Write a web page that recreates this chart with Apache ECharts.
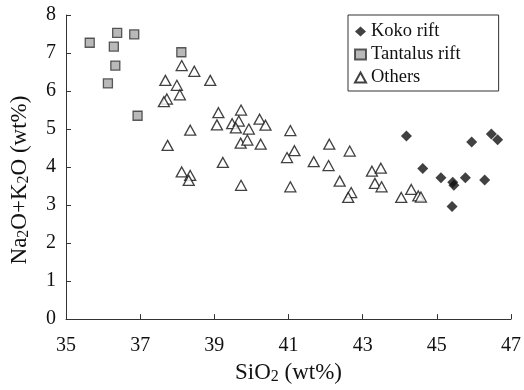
<!DOCTYPE html>
<html lang="en">
<head>
    <meta charset="UTF-8">
    <title>SiO2 vs Na2O+K2O</title>
    <script src="https://cdn.jsdelivr.net/npm/echarts@6/dist/echarts.min.js"></script>
    <style>
        html, body, #chart {
            width: 524px;
            height: 390px;
            padding: 0;
            margin: 0;
            background: #fff;
        }
    </style>
</head>
<body>
<div id="chart"></div>
<script>
    // [SiO2, Na2O+K2O]
    var kokoRift = [
        [44.18, 4.82], [45.94, 4.66], [46.47, 4.87], [46.64, 4.72],
        [44.62, 3.96], [45.11, 3.72], [45.43, 3.60], [45.46, 3.52],
        [45.77, 3.72], [46.29, 3.66], [45.41, 2.96]
    ];
    var tantalusRift = [
        [35.64, 7.27], [36.38, 7.53], [36.84, 7.49], [36.29, 7.17],
        [38.11, 7.02], [36.33, 6.67], [36.13, 6.20], [36.93, 5.35]
    ];
    var others = [
        [38.12, 6.67], [38.46, 6.52], [38.89, 6.28], [37.68, 6.28], [37.99, 6.15],
        [38.07, 5.90], [37.72, 5.79], [37.64, 5.72], [39.11, 5.43], [39.72, 5.50],
        [40.22, 5.26], [40.38, 5.10], [39.07, 5.11], [39.48, 5.14], [39.66, 5.21],
        [39.58, 5.03], [39.93, 5.00], [38.35, 4.97], [41.05, 4.96], [39.71, 4.63],
        [39.89, 4.71], [40.25, 4.60], [37.74, 4.57], [42.10, 4.60], [42.65, 4.42],
        [41.16, 4.43], [40.96, 4.25], [39.23, 4.12], [41.68, 4.14], [42.08, 4.04],
        [38.12, 3.87], [38.35, 3.78], [38.31, 3.65], [42.38, 3.63], [42.69, 3.33],
        [42.61, 3.20], [39.72, 3.52], [41.05, 3.48], [43.25, 3.89], [43.49, 3.97],
        [43.33, 3.57], [43.51, 3.48], [44.04, 3.20], [44.31, 3.41], [44.50, 3.24],
        [44.57, 3.21]
    ];

    var font = "Liberation Serif";
    var subStyle = {fontFamily: font, fontSize: 16, color: "#111", padding: [9, 0, 0, 0]};
    var chart = echarts.init(document.getElementById("chart"));

    chart.setOption({
        animation: false,
        grid: {
            left: 63,
            right: 10,
            top: 15,
            bottom: 68
        },
        legend: {
            orient: "vertical",
            left: 348,
            top: 15,
            padding: [7, 38, 4, 6],
            itemGap: 4,
            itemWidth: 11,
            itemHeight: 10,
            borderColor: "#333",
            borderWidth: 1,
            borderRadius: 0,
            textStyle: {
                fontFamily: font,
                fontSize: 18.5,
                lineHeight: 19,
                color: "#111"
            },
            data: ["Koko rift", "Tantalus rift", "Others"]
        },
        xAxis: {
            type: "value",
            min: 35,
            max: 47,
            interval: 2,
            name: "SiO{s|2} (wt%)",
            nameLocation: "middle",
            nameGap: 39,
            nameTextStyle: {
                fontFamily: font,
                fontSize: 23,
                color: "#111",
                rich: {s: subStyle}
            },
            axisLine: {lineStyle: {color: "#333", width: 1}},
            axisTick: {inside: true, length: 5, lineStyle: {color: "#333"}},
            axisLabel: {
                fontFamily: font,
                fontSize: 20,
                color: "#111",
                margin: 17
            },
            splitLine: {show: false}
        },
        yAxis: {
            type: "value",
            min: 0,
            max: 8,
            interval: 1,
            name: "Na{s|2}O+K{s|2}O (wt%)",
            nameLocation: "middle",
            nameGap: 34,
            nameTextStyle: {
                fontFamily: font,
                fontSize: 23,
                color: "#111",
                padding: [0, 26, 0, 0],
                rich: {s: subStyle}
            },
            axisLine: {show: true, lineStyle: {color: "#333", width: 1}},
            axisTick: {show: true, inside: true, length: 5, lineStyle: {color: "#333"}},
            axisLabel: {
                fontFamily: font,
                fontSize: 20,
                color: "#111",
                margin: 10
            },
            splitLine: {show: false}
        },
        series: [{
            name: "Koko rift",
            type: "scatter",
            symbol: "diamond",
            symbolSize: 11,
            itemStyle: {color: "#111"},
            data: kokoRift
        }, {
            name: "Tantalus rift",
            type: "scatter",
            symbol: "rect",
            symbolSize: 9,
            itemStyle: {color: "#a8a8a8", borderColor: "#333", borderWidth: 1.3},
            data: tantalusRift
        }, {
            name: "Others",
            type: "scatter",
            symbol: "triangle",
            symbolSize: [11, 10],
            itemStyle: {color: "#fff", borderColor: "#111", borderWidth: 1.3},
            data: others
        }]
    });
</script>
</body>
</html>
